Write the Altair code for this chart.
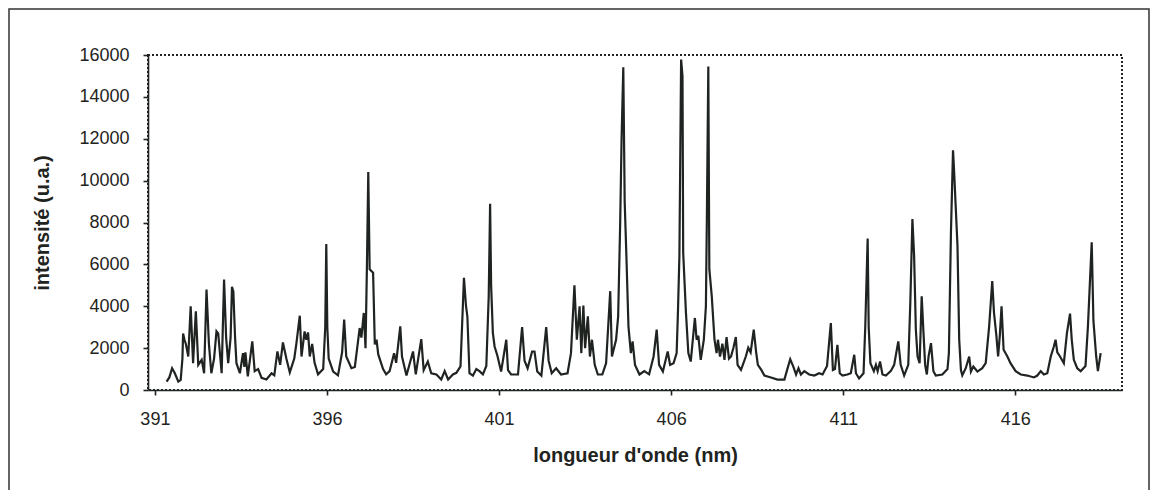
import altair as alt
import pandas as pd

# wavelength (nm) and intensity (a.u.)
lam = [
    391.34, 391.42, 391.50, 391.58, 391.68, 391.75, 391.80, 391.82, 391.86, 391.90,
    391.97, 392.04, 392.11, 392.19, 392.26, 392.36, 392.43, 392.50, 392.57, 392.64,
    392.72, 392.79, 392.84, 392.94, 393.01, 393.07, 393.13, 393.20, 393.24, 393.28,
    393.33, 393.37, 393.47, 393.56, 393.60, 393.63, 393.70, 393.83, 393.90, 394.00,
    394.10, 394.24, 394.39, 394.47, 394.56, 394.64, 394.72, 394.82, 394.92, 395.05,
    395.11, 395.21, 395.26, 395.35, 395.40, 395.45, 395.50, 395.57, 395.64, 395.74,
    395.89, 395.95, 395.98, 396.01, 396.05, 396.18, 396.32, 396.44, 396.50, 396.56,
    396.71, 396.81, 396.95, 397.00, 397.07, 397.12, 397.16, 397.20, 397.24, 397.34,
    397.39, 397.44, 397.49, 397.63, 397.72, 397.82, 397.95, 398.01, 398.13, 398.18,
    398.31, 398.50, 398.58, 398.74, 398.81, 398.93, 399.03, 399.18, 399.32, 399.42,
    399.52, 399.66, 399.76, 399.88, 399.98, 400.04, 400.08, 400.14, 400.24, 400.34,
    400.43, 400.53, 400.63, 400.70, 400.74, 400.77, 400.82, 400.87, 400.95, 401.06,
    401.21, 401.26, 401.35, 401.55, 401.67, 401.74, 401.83, 401.96, 402.03, 402.11,
    402.23, 402.37, 402.44, 402.53, 402.66, 402.80, 402.99, 403.09, 403.19, 403.26,
    403.34, 403.39, 403.45, 403.50, 403.58, 403.64, 403.70, 403.78, 403.87, 404.00,
    404.11, 404.23, 404.28, 404.40, 404.46, 404.52, 404.56, 404.61, 404.65, 404.70,
    404.76, 404.83, 404.88, 404.95, 405.08, 405.22, 405.36, 405.49, 405.58, 405.65,
    405.76, 405.90, 405.97, 406.07, 406.16, 406.20, 406.24, 406.29, 406.33, 406.35,
    406.43, 406.50, 406.57, 406.69, 406.74, 406.79, 406.86, 406.95, 407.01, 407.04,
    407.08, 407.11, 407.18, 407.26, 407.32, 407.36, 407.42, 407.49, 407.55, 407.61,
    407.68, 407.74, 407.81, 407.88, 407.93, 408.03, 408.17, 408.24, 408.31, 408.40,
    408.47, 408.52, 408.62, 408.71, 408.90, 409.09, 409.29, 409.36, 409.46, 409.55,
    409.63, 409.70, 409.77, 409.87, 410.01, 410.16, 410.30, 410.40, 410.53, 410.64,
    410.70, 410.76, 410.83, 410.90, 410.98, 411.12, 411.22, 411.32, 411.37, 411.46,
    411.59, 411.64, 411.71, 411.74, 411.79, 411.89, 411.95, 412.00, 412.07, 412.14,
    412.24, 412.38, 412.48, 412.60, 412.67, 412.77, 412.89, 412.95, 413.01, 413.06,
    413.11, 413.16, 413.22, 413.28, 413.33, 413.38, 413.43, 413.48, 413.55, 413.62,
    413.69, 413.88, 414.03, 414.07, 414.13, 414.19, 414.22, 414.32, 414.37, 414.42,
    414.46, 414.56, 414.66, 414.71, 414.78, 414.84, 414.90, 415.04, 415.14, 415.24,
    415.33, 415.38, 415.45, 415.50, 415.55, 415.60, 415.66, 415.77, 415.86, 416.01,
    416.16, 416.35, 416.54, 416.64, 416.74, 416.83, 416.93, 417.03, 417.12, 417.17,
    417.22, 417.30, 417.41, 417.50, 417.59, 417.64, 417.70, 417.80, 417.90, 418.04,
    418.11, 418.22, 418.27, 418.35, 418.40, 418.48,
]
inten = [
    400, 600, 1040, 800, 400, 480, 1500, 2700, 2400, 2200,
    1600, 4000, 1280, 3760, 1200, 1440, 800, 4800, 2200, 800,
    1500, 2800, 2700, 800, 5280, 2500, 1280, 2500, 4930, 4700,
    2500, 1280, 800, 1760, 1100, 1800, 650, 2320, 900, 1000,
    580, 500, 800, 700, 1840, 1200, 2270, 1500, 840, 1500,
    2200, 3550, 1600, 2800, 2400, 2750, 1600, 2200, 1300, 750,
    1000, 3000, 6970, 3000, 1500, 880, 700, 1800, 3360, 1600,
    1040, 1100, 2960, 2500, 3680, 2000, 5800, 10410, 5770, 5600,
    2180, 2400, 1700, 1000, 750, 900, 1760, 1300, 3040, 1600,
    690, 1840, 750, 2430, 950, 1360, 800, 740, 500, 900,
    500, 740, 820, 1130, 5360, 4000, 3500, 800, 690, 1000,
    900, 750, 1150, 4500, 8890, 4960, 2730, 2080, 1650, 880,
    2400, 950, 740, 740, 3000, 1400, 1040, 1840, 1840, 880,
    690, 3000, 1400, 800, 1040, 740, 800, 1760, 5000, 2400,
    4000, 1760, 4030, 2000, 3520, 1600, 2400, 1200, 740, 740,
    1280, 4720, 1600, 2400, 3500, 8000, 12000, 15410, 9000, 6400,
    3040, 1760, 2320, 1200, 740, 900, 750, 1600, 2880, 1200,
    880, 1840, 1200, 1280, 1760, 3840, 6400, 15780, 15000, 6570,
    3700, 1760, 1360, 3440, 2400, 2600, 1440, 2400, 4000, 8490,
    15450, 5770, 4480, 2400, 1760, 2400, 1600, 2210, 1440, 2530,
    1500, 1600, 2020, 2530, 1200, 960, 1600, 2020, 1800, 2880,
    1800, 1200, 960, 690, 600, 500, 500, 900, 1470, 1120,
    740, 1040, 740, 900, 740, 690, 800, 740, 1150, 3200,
    950, 1000, 2160, 800, 690, 740, 800, 1680, 800, 550,
    800, 3000, 7240, 3000, 1280, 900, 1200, 900, 1360, 740,
    690, 900, 1200, 2320, 1200, 690, 1200, 4200, 8170, 6400,
    2880, 1600, 1280, 4480, 2800, 1200, 740, 1600, 2240, 900,
    690, 740, 1000, 1760, 7540, 11450, 10500, 6890, 2400, 950,
    700, 1040, 1600, 880, 1120, 1000, 880, 1040, 1280, 3040,
    5200, 3700, 2600, 1600, 2600, 4000, 1920, 1600, 1280, 900,
    740, 690, 600, 690, 900, 740, 800, 1600, 2080, 2400,
    1800, 1600, 1280, 2720, 3650, 2400, 1440, 1040, 900, 1150,
    3040, 7050, 3300, 1600, 900, 1760,
]

x_ticks = [391, 396, 401, 406, 411, 416]
y_ticks = [0, 2000, 4000, 6000, 8000, 10000, 12000, 14000, 16000]

df = pd.DataFrame({"lambda": lam, "intensite": inten})

FONT = "Liberation Sans"
INK = "#1f2421"

line = alt.Chart(df).mark_line(color=INK, strokeWidth=2.2).encode(
    x=alt.X(
        "lambda:Q",
        scale=alt.Scale(domain=[390.8, 419.1], nice=False, zero=False),
        axis=alt.Axis(
            values=x_ticks, title="longueur d'onde (nm)", format="d",
            labelPadding=15, titlePadding=17,
        ),
    ),
    y=alt.Y(
        "intensite:Q",
        scale=alt.Scale(domain=[0, 16000], nice=False),
        axis=alt.Axis(
            values=y_ticks, title="intensité (u.a.)", format="d",
            labelPadding=14, titlePadding=26,
        ),
    ),
)

frame = alt.Chart(pd.DataFrame({"k": [0]})).mark_rect(
    filled=False, stroke="#333333", strokeWidth=1.5
).encode(
    x=alt.value(-139), x2=alt.value(1001), y=alt.value(-46), y2=alt.value(436)
)

chart = alt.layer(frame, line).properties(
    width=974, height=335,
    background="white",
    autosize=alt.AutoSizeParams(type="none"),
    padding={"left": 140, "top": 47, "right": 28, "bottom": 100},
).configure_view(
    stroke=INK, strokeDash=[2, 2], strokeWidth=2
).configure_axis(
    grid=False,
    domainColor=INK, domainWidth=1.6,
    tickColor=INK, tickWidth=1.6, tickSize=5,
    labelFont=FONT, labelFontSize=18, labelColor=INK,
    titleFont=FONT, titleFontSize=20, titleFontWeight="bold", titleColor=INK,
)

chart.save("out.html", embed_options={"renderer": "svg", "actions": False})
